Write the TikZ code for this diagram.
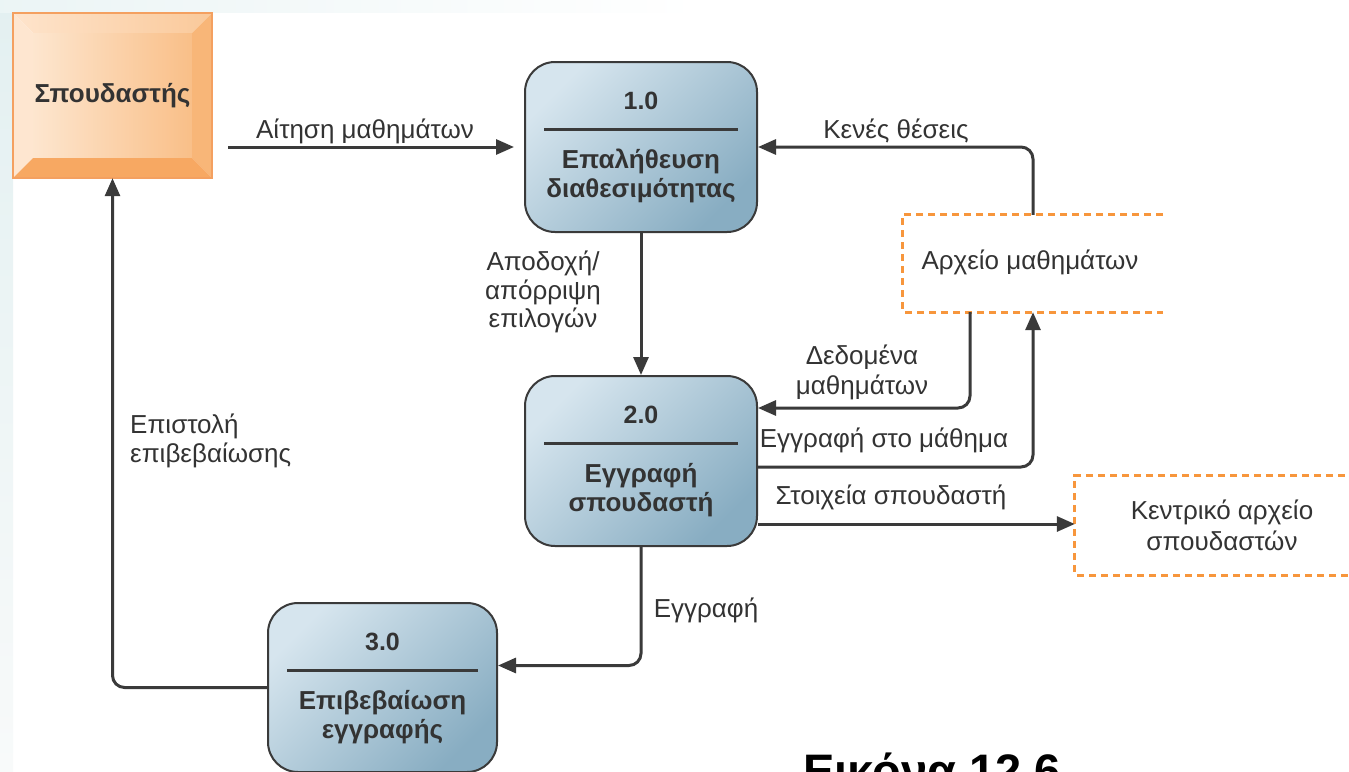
\documentclass[tikz,border=0pt]{standalone}
\usepackage{fontspec}
\setmainfont{Liberation Sans}
\usetikzlibrary{arrows.meta,calc,backgrounds}

\definecolor{ink}{HTML}{333333}
\definecolor{linec}{HTML}{3A3A3A}
\definecolor{procA}{HTML}{D6E5EE}
\definecolor{procB}{HTML}{88ADC2}
\definecolor{storeC}{HTML}{F7963C}
\definecolor{extEdge}{HTML}{F4A060}
\definecolor{extFaceL}{HTML}{FDE6CF}
\definecolor{extFaceR}{HTML}{F9BF88}
\definecolor{extTopL}{HTML}{FEE4CC}
\definecolor{extTopR}{HTML}{FAC99A}
\definecolor{extLeft}{HTML}{FEE6D0}
\definecolor{extRight}{HTML}{F8B678}
\definecolor{extBottom}{HTML}{F7A862}
\definecolor{pageTint}{HTML}{E3F0F1}
\definecolor{pageFade}{HTML}{F8FAFA}

\tikzset{
  process/.style={draw=linec, line width=2pt, rounded corners=30pt,
    minimum width=232pt, minimum height=170pt, inner sep=0pt,
    top color=procA, bottom color=procB, shading angle=45},
  pnum/.style={font=\bfseries\fontsize{25}{28}\selectfont, text=ink, inner sep=0pt},
  pname/.style={font=\bfseries\fontsize{26}{29}\selectfont, text=ink, align=center, inner sep=0pt},
  pbar/.style={draw=linec, line width=3pt},
  extent/.style={minimum width=199pt, minimum height=165pt, inner sep=0pt,
    font=\bfseries\fontsize{26}{28}\selectfont, text=ink},
  store/.style={inner sep=0pt, font=\fontsize{26}{31}\selectfont, text=ink, align=center},
  storeline/.style={draw=storeC, line width=3pt, dash pattern=on 7pt off 5pt},
  flow/.style={draw=linec, line width=3pt, rounded corners=12pt,
    -{Triangle[length=18pt,width=15pt]}},
  lbl/.style={font=\fontsize{26}{28.5}\selectfont, text=ink, align=center, inner sep=0pt},
  caption/.style={font=\bfseries\fontsize{47}{50}\selectfont, text=black, inner sep=0pt}
}

\begin{document}
\begin{tikzpicture}[x=1pt,y=-1pt]
\useasboundingbox (0,0) rectangle (1349,771);
\clip (0,0) rectangle (1349,771);

% external entity
\node[extent] (ext) at (112.5,95.5) {Σπουδαστής};

% processes
\node[process] (p1) at (641,147) {};
\node[process] (p2) at (641,461) {};
\node[process,minimum width=229pt,minimum height=169pt] (p3) at (382.5,687.5) {};

\foreach \p/\n/\t in {p1/1.0/{Επαλήθευση\\διαθεσιμότητας},
                      p2/2.0/{Εγγραφή\\σπουδαστή},
                      p3/3.0/{Επιβεβαίωση\\εγγραφής}}{
  \node[pnum] (\p num) at ($(\p.north)+(0,40)$) {\n};
  \draw[pbar] ($(\p.north west)+(20,68)$) -- ($(\p.north east)+(-20,68)$);
  \node[pname] (\p name) at ($(\p.north)+(0,115)$) {\t};
}

% data stores (open on the right)
\node[store, minimum width=260pt, minimum height=97pt] (ds1) at (1033,263.5) {};
\node[store] (ds1txt) at (1030,262) {Αρχείο μαθημάτων};
\draw[storeline] (ds1.north east) -- (ds1.north west) -- (ds1.south west) -- (ds1.south east);

\node[store, minimum width=294pt, minimum height=99pt] (ds2) at (1222,525.5) {Κεντρικό αρχείο\\σπουδαστών};
\draw[storeline] (ds2.north east) -- (ds2.north west) -- (ds2.south west) -- (ds2.south east);

% data flows
\draw[flow, shorten <=16pt, shorten >=10pt] (ext.east |- p1.west) -- (p1.west);
\draw[flow] (ds1.north) |- (p1.east);
\draw[flow] (p1.south) -- (p2.north);
\draw[flow] ([xshift=-63pt]ds1.south) |- ([yshift=53pt]p2.east);
\draw[flow] ([yshift=-6pt]p2.east) -| (ds1.south);
\draw[flow] ([yshift=-63pt]p2.east) -- ([yshift=-63pt]p2.east -| ds2.west);
\draw[flow] (p2.south) |- ([yshift=22pt]p3.east);
\draw[flow] (p3.west) -| (ext.south);

% flow labels
\node[lbl] (l1) at (365,131) {Αίτηση μαθημάτων};
\node[lbl] (l2) at (896,131) {Κενές θέσεις};
\node[lbl] (l3) at (543,292) {Αποδοχή/\\απόρριψη\\επιλογών};
\node[lbl, font=\fontsize{26}{30}\selectfont] (l4) at (862,372) {Δεδομένα\\μαθημάτων};
\node[lbl] (l5) at (884,440) {Εγγραφή στο μάθημα};
\node[lbl] (l6) at (891,497) {Στοιχεία σπουδαστή};
\node[lbl] (l7) at (706,610) {Εγγραφή};
\node[lbl, align=left, anchor=west] (l8) at (130,441) {Επιστολή\\επιβεβαίωσης};

% caption, cut by the lower edge
\node[caption, anchor=base west] (fig) at (803,787) {Εικόνα 12.6};

% page tint and the raised bevel of the external entity
\begin{scope}[on background layer]
  \fill[white] (0,0) rectangle (1349,771);
  \shade[top color=pageTint, bottom color=pageFade] (0,0) rectangle (13,771);
  \shade[left color=pageTint!70!white, right color=white] (0,0) rectangle (700,12);
  \coordinate (iNW) at ($(ext.north west)+(20,20)$);
  \coordinate (iNE) at ($(ext.north east)+(-20,20)$);
  \coordinate (iSE) at ($(ext.south east)+(-20,-20)$);
  \coordinate (iSW) at ($(ext.south west)+(20,-20)$);
  \shade[left color=extFaceL, right color=extFaceR] (iNW) rectangle (iSE);
  \shade[left color=extTopL, right color=extTopR] (ext.north west) -- (ext.north east) -- (iNE) -- (iNW) -- cycle;
  \fill[extLeft] (ext.north west) -- (iNW) -- (iSW) -- (ext.south west) -- cycle;
  \fill[extRight] (ext.north east) -- (ext.south east) -- (iSE) -- (iNE) -- cycle;
  \fill[extBottom] (ext.south west) -- (iSW) -- (iSE) -- (ext.south east) -- cycle;
  \draw[extEdge, line width=1.5pt] (ext.north west) rectangle (ext.south east);
\end{scope}
\end{tikzpicture}
\end{document}
